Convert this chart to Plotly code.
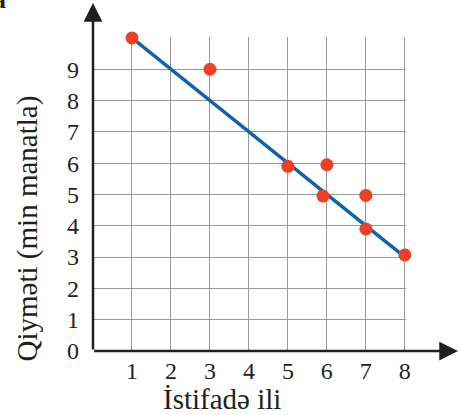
import plotly.graph_objects as go

# Data
years = [1, 3, 5, 6, 5.9, 7, 7, 8]
prices = [10, 9, 5.9, 5.95, 4.95, 4.97, 3.9, 3.07]
fit_x = [1, 7.9]
fit_y = [10, 3.1]

x_ticks = [0, 1, 2, 3, 4, 5, 6, 7, 8]
x_text = ["", "1", "2", "3", "4", "5", "6", "7", "8"]
y_ticks = [0, 1, 2, 3, 4, 5, 6, 7, 8, 9, 10]
y_text = ["0", "1", "2", "3", "4", "5", "6", "7", "8", "9", ""]

FONT = "Liberation Serif"
INK = "#231f20"

fig = go.Figure()
fig.add_trace(go.Scatter(x=fit_x, y=fit_y, mode="lines",
                         line=dict(color="#0E63AE", width=3.5),
                         hoverinfo="skip", showlegend=False))
fig.add_trace(go.Scatter(x=years, y=prices, mode="markers",
                         marker=dict(color="#EE4024", size=13),
                         showlegend=False, cliponaxis=False))

fig.update_xaxes(range=[0, 8.03], tickvals=x_ticks, ticktext=x_text,
                 showgrid=True, gridcolor="#9a9a9a", gridwidth=1.3,
                 zeroline=False, showline=False, ticks="",
                 ticklabelstandoff=3,
                 tickfont=dict(family=FONT, size=24, color=INK))
fig.update_yaxes(range=[0, 10.03], tickvals=y_ticks, ticktext=y_text,
                 showgrid=True, gridcolor="#9a9a9a", gridwidth=1.3,
                 zeroline=False, showline=False, ticks="",
                 ticklabelstandoff=13,
                 tickfont=dict(family=FONT, size=24, color=INK))

# axis arrows (paper coordinates, tail offsets in pixels)
fig.add_annotation(x=0, y=1.108, ax=0, ay=348, xref="paper", yref="paper",
                   showarrow=True, text="",
                   arrowhead=2, arrowsize=1.5, arrowwidth=2.5,
                   arrowcolor=INK)
fig.add_annotation(x=1.168, y=0, ax=-366, ay=0, xref="paper", yref="paper",
                   showarrow=True, text="",
                   arrowhead=2, arrowsize=1.5, arrowwidth=2.5,
                   arrowcolor=INK)

fig.add_annotation(text="Qiymәti (min manatla)", xref="paper", yref="paper",
                   x=-0.208, y=0.39, xanchor="center", yanchor="middle",
                   showarrow=False, textangle=-90,
                   font=dict(family=FONT, size=29, color=INK))
fig.add_annotation(text="İstifadə ili", xref="paper", yref="paper",
                   x=0.413, y=-0.153, xanchor="center", yanchor="middle",
                   showarrow=False,
                   font=dict(family=FONT, size=29, color=INK))
fig.add_annotation(text="<b>a</b>", xref="paper", yref="paper",
                   x=-0.27, y=1.12, xanchor="right", yanchor="middle",
                   showarrow=False,
                   font=dict(family=FONT, size=26, color=INK))

fig.update_layout(width=459, height=415, autosize=False,
                  margin=dict(l=93, r=53, t=37, b=64),
                  plot_bgcolor="white", paper_bgcolor="white")

fig.write_html("out.html", config={"displayModeBar": False},
               post_script="document.body.style.margin='0';")
